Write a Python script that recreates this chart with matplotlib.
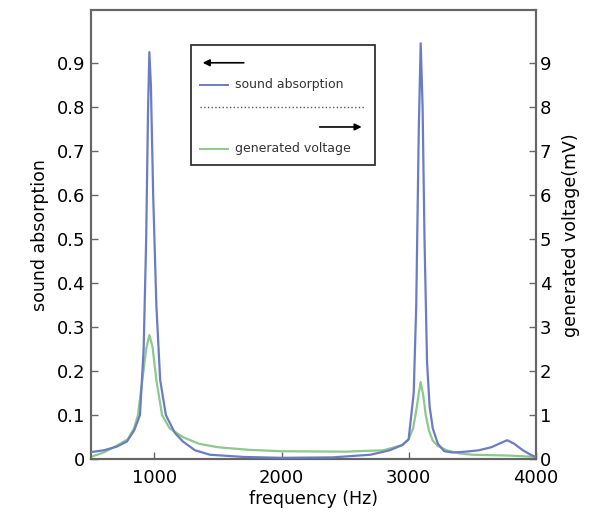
import matplotlib
matplotlib.use("Agg")
import matplotlib.pyplot as plt
from matplotlib.patches import Rectangle
from matplotlib.lines import Line2D

# sound absorption (left axis)
freq_abs = [500, 600, 700, 783, 840, 886, 915, 935, 950, 960, 972, 990, 1015,
            1045, 1090, 1160, 1224, 1320, 1437, 1700, 2000, 2400, 2700, 2850,
            2950, 3000, 3040, 3060, 3080, 3095, 3110, 3125, 3145, 3165, 3190,
            3230, 3280, 3350, 3450, 3550, 3650, 3720, 3776, 3830, 3900, 3960, 4000]
absorption = [0.016, 0.02, 0.028, 0.04, 0.065, 0.1, 0.25, 0.5, 0.8, 0.925, 0.85,
              0.6, 0.35, 0.18, 0.1, 0.06, 0.04, 0.02, 0.01, 0.005, 0.003, 0.004,
              0.01, 0.02, 0.032, 0.045, 0.15, 0.35, 0.75, 0.945, 0.8, 0.5, 0.22,
              0.12, 0.07, 0.035, 0.018, 0.015, 0.017, 0.02, 0.027, 0.036, 0.043,
              0.035, 0.02, 0.01, 0.005]

# generated voltage in mV (right axis)
freq_volt = [500, 600, 700, 790, 840, 870, 905, 935, 960, 985, 1015, 1060,
             1120, 1224, 1350, 1500, 1750, 2000, 2500, 2800, 2950, 3000, 3035,
             3060, 3080, 3095, 3115, 3135, 3160, 3190, 3230, 3300, 3400, 3500, 3800, 4000]
voltage = [0.05, 0.15, 0.3, 0.45, 0.7, 1.0, 1.8, 2.5, 2.82, 2.55, 1.8, 1.0,
           0.7, 0.5, 0.35, 0.27, 0.21, 0.18, 0.17, 0.2, 0.32, 0.45, 0.7,
           1.1, 1.5, 1.75, 1.45, 1.0, 0.65, 0.42, 0.3, 0.2, 0.13, 0.1, 0.08, 0.05]

blue = "#6a7cc6"
green = "#8cc98c"
spine_col = "#666666"

fig = plt.figure(figsize=(6.06, 5.13), dpi=100)
ax = fig.add_axes([0.150, 0.105, 0.734, 0.875])
ax2 = ax.twinx()

ax.plot(freq_abs, absorption, color=blue, lw=1.6, zorder=3)
ax2.plot(freq_volt, voltage, color=green, lw=1.6)
ax.set_zorder(ax2.get_zorder() + 1)
ax.patch.set_visible(False)

ax.set_xlim(500, 4000)
ax.set_ylim(0, 1.02)
ax2.set_ylim(0, 10.2)
ax.set_xticks([1000, 2000, 3000, 4000])
ax.set_yticks([0, 0.1, 0.2, 0.3, 0.4, 0.5, 0.6, 0.7, 0.8, 0.9])
ax.set_yticklabels(["0", "0.1", "0.2", "0.3", "0.4", "0.5", "0.6", "0.7", "0.8", "0.9"])
ax2.set_yticks(range(10))

for a in (ax, ax2):
    for s in a.spines.values():
        s.set_color(spine_col)
        s.set_linewidth(1.5)
    a.tick_params(direction="in", length=5, width=1, color=spine_col, labelsize=13)
ax.tick_params(axis="x", pad=7)
ax.tick_params(axis="y", pad=4)
ax2.tick_params(axis="y", pad=3)

ax.set_xlabel("frequency (Hz)", fontsize=12.5, labelpad=2)
ax.set_ylabel("sound absorption", fontsize=12.5, labelpad=6)
ax2.set_ylabel("generated voltage(mV)", fontsize=12.5, labelpad=8)

# custom legend box with arrows
tr = ax.transAxes
ax.add_patch(Rectangle((0.225, 0.655), 0.413, 0.267, transform=tr, fill=False,
                       ec="#333333", lw=1.3, zorder=5))
ax.annotate("", xy=(0.245, 0.883), xytext=(0.350, 0.883), xycoords=tr,
            arrowprops=dict(arrowstyle="-|>", color="black", lw=1.2), zorder=6)
ax.add_line(Line2D([0.245, 0.308], [0.834, 0.834], transform=tr, color=blue, lw=1.4))
ax.text(0.323, 0.834, "sound absorption", transform=tr, fontsize=9,
        va="center", ha="left", color="#333333")
ax.add_line(Line2D([0.245, 0.615], [0.785, 0.785], transform=tr, color="#555555",
                   lw=1, ls=":"))
ax.annotate("", xy=(0.615, 0.740), xytext=(0.508, 0.740), xycoords=tr,
            arrowprops=dict(arrowstyle="-|>", color="black", lw=1.2), zorder=6)
ax.add_line(Line2D([0.245, 0.308], [0.691, 0.691], transform=tr, color=green, lw=1.4))
ax.text(0.323, 0.691, "generated voltage", transform=tr, fontsize=9,
        va="center", ha="left", color="#333333")

fig.savefig("out.png", dpi=100)
